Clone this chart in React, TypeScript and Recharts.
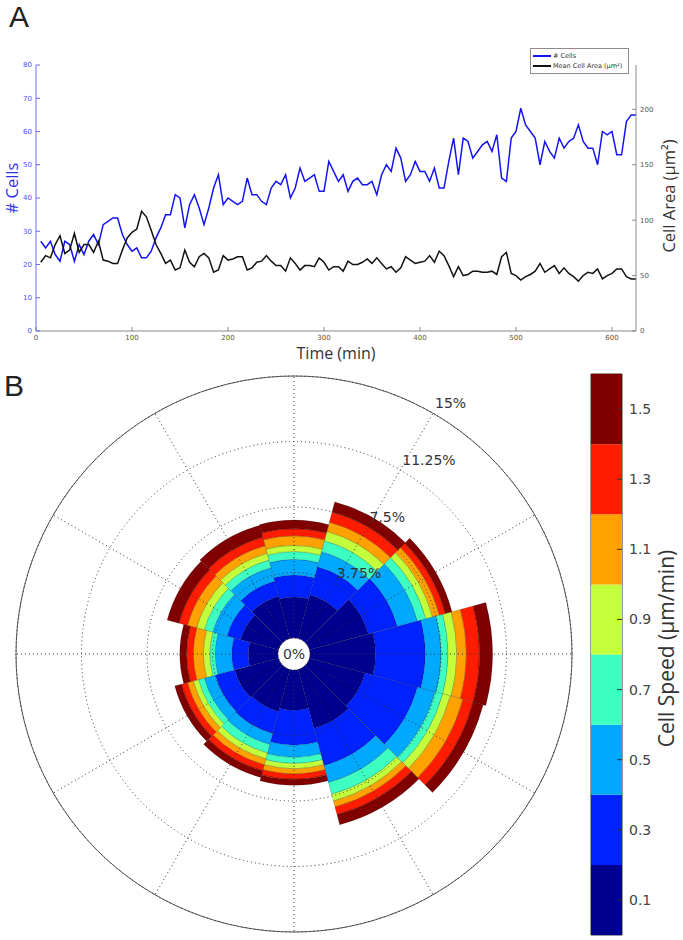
import React from "react";
import {
  Bar,
  BarChart,
  Legend,
  Line,
  LineChart,
  PolarAngleAxis,
  PolarGrid,
  PolarRadiusAxis,
  RadialBar,
  RadialBarChart,
  ReferenceArea,
  XAxis,
  YAxis,
} from "recharts";

// ---- panel A: cell count and mean cell area over time ----
const times = [
  5, 10, 15, 20, 25, 30, 35, 40, 45, 50,
  55, 60, 65, 70, 75, 80, 85, 90, 95, 100,
  105, 110, 115, 120, 125, 130, 135, 140, 145, 150,
  155, 160, 165, 170, 175, 180, 185, 190, 195, 200,
  205, 210, 215, 220, 225, 230, 235, 240, 245, 250,
  255, 260, 265, 270, 275, 280, 285, 290, 295, 300,
  305, 310, 315, 320, 325, 330, 335, 340, 345, 350,
  355, 360, 365, 370, 375, 380, 385, 390, 395, 400,
  405, 410, 415, 420, 425, 430, 435, 440, 445, 450,
  455, 460, 465, 470, 475, 480, 485, 490, 495, 500,
  505, 510, 515, 520, 525, 530, 535, 540, 545, 550,
  555, 560, 565, 570, 575, 580, 585, 590, 595, 600,
  605, 610, 615, 620, 625,
];

const cellCounts = [
  27, 25, 27, 23, 21, 27, 26, 21, 26, 23,
  27, 29, 26, 32, 33, 34, 34, 29, 26, 24,
  25, 22, 22, 24, 28, 31, 35, 35, 41, 40,
  31, 38, 41, 37, 32, 37, 43, 47, 38, 40,
  39, 38, 39, 46, 41, 41, 39, 38, 43, 45,
  44, 47, 40, 43, 49, 45, 46, 47, 42, 42,
  51, 48, 45, 47, 42, 45, 46, 44, 44, 45,
  41, 47, 50, 48, 55, 52, 45, 47, 51, 48,
  48, 45, 49, 43, 43, 51, 58, 47, 58, 57,
  52, 54, 56, 57, 54, 59, 46, 45, 58, 60,
  67, 62, 60, 58, 50, 57, 54, 52, 58, 55,
  57, 58, 62, 57, 55, 55, 50, 60, 59, 60,
  53, 53, 63, 65, 65,
];

const cellAreas = [
  62, 68, 66, 78, 86, 70, 73, 88, 71, 78,
  78, 71, 81, 64, 63, 61, 61, 73, 84, 89,
  92, 108, 103, 91, 78, 70, 61, 64, 55, 57,
  73, 62, 58, 67, 70, 66, 53, 55, 68, 64,
  65, 67, 67, 55, 57, 62, 63, 68, 63, 59,
  59, 54, 66, 61, 55, 59, 59, 58, 66, 62,
  55, 58, 58, 54, 63, 60, 60, 62, 65, 61,
  66, 61, 56, 58, 53, 57, 67, 64, 61, 62,
  63, 68, 62, 72, 68, 59, 49, 58, 50, 51,
  54, 54, 53, 53, 54, 51, 67, 71, 52, 50,
  46, 49, 51, 54, 61, 53, 56, 59, 52, 57,
  52, 49, 45, 50, 53, 52, 56, 47, 50, 52,
  56, 56, 49, 47, 47,
];

const timeTicks = [0, 100, 200, 300, 400, 500, 600];
const countTicks = [0, 10, 20, 30, 40, 50, 60, 70, 80];
const areaTicks = [0, 50, 100, 150, 200];

// ---- panel B: rose of migration direction, stacked by speed class ----
const bearings = [0, 30, 60, 90, 120, 150, 180, 210, 240, 270, 300, 330];
const speedLabels = [0.1, 0.3, 0.5, 0.7, 0.9, 1.1, 1.3, 1.5];
const speedBinWidths = [0.2, 0.2, 0.2, 0.2, 0.2, 0.2, 0.2, 0.2];
const speedColors = ["#00008f", "#0022ff", "#00a8ff", "#3effc2", "#c4ff3c", "#ffa200", "#ff1c00", "#800000"];

// percent of cells per bearing (same order as bearings)
const pctSpeed01 = [2.35, 2.6, 3.5, 3.75, 3.3, 3.5, 2.3, 2.5, 2.6, 1.7, 2.25, 2.5];
const pctSpeed03 = [1.25, 1.65, 1.7, 2.85, 3.1, 2.2, 2.0, 1.3, 1.15, 0.95, 0.8, 0.9];
const pctSpeed05 = [0.9, 0.9, 1.2, 0.9, 1.05, 1.0, 0.7, 0.65, 0.65, 0.95, 0.85, 0.8];
const pctSpeed07 = [0.45, 0.65, 0.5, 0.4, 0.45, 0.7, 0.35, 0.5, 0.35, 0.3, 0.5, 0.45];
const pctSpeed09 = [0.35, 0.55, 0.4, 0.5, 0.45, 0.4, 0.3, 0.35, 0.3, 0.37, 0.45, 0.4];
const pctSpeed11 = [0.55, 0.55, 0.4, 0.55, 0.75, 0.35, 0.3, 0.35, 0.35, 0.58, 0.55, 0.45];
const pctSpeed13 = [0.4, 0.6, 0.35, 0.75, 0.6, 0.45, 0.3, 0.35, 0.35, 0.38, 0.5, 0.5];
const pctSpeed15 = [0.5, 0.6, 0.4, 0.75, 0.6, 0.6, 0.35, 0.4, 0.4, 0.39, 0.7, 0.7];
const pctBySpeed = [pctSpeed01, pctSpeed03, pctSpeed05, pctSpeed07, pctSpeed09, pctSpeed11, pctSpeed13, pctSpeed15];

const percentTicks = [0, 3.75, 7.5, 11.25, 15];

const ROSE_INNER = 16;
const ROSE_OUTER = 278;
const ROSE_LABEL_ANGLE = 60;

const lineRows = times.map((t, i) => ({ t, cells: cellCounts[i], area: cellAreas[i] }));

const roseRows = bearings.map((b, i) => {
  const row: Record<string, number | string> = { dir: `${b}°` };
  pctBySpeed.forEach((arr, k) => {
    row[`s${k}`] = arr[i];
  });
  return row;
});

const colorbarRow: Record<string, number | string> = { name: "speed" };
speedBinWidths.forEach((w, k) => {
  colorbarRow[`c${k}`] = w;
});

const tickFont = "'DejaVu Sans', sans-serif";
const labelFont = "'Open Sans', 'DejaVu Sans', sans-serif";
const letterFont = "'Liberation Sans', Arial, sans-serif";

function LegendBox(props: any) {
  const items = props.payload || [];
  return (
    <div
      style={{
        border: "1px solid #8c8c8c",
        background: "#fff",
        padding: "2px 4px 2px 2px",
        fontFamily: tickFont,
        fontSize: 6.5,
        color: "#333",
        lineHeight: "10px",
      }}
    >
      {items.map((it: any) => (
        <div key={it.value} style={{ display: "flex", alignItems: "center", whiteSpace: "nowrap" }}>
          <span style={{ display: "inline-block", width: 18, height: 2, background: it.color, marginRight: 2 }} />
          {it.value}
        </div>
      ))}
    </div>
  );
}

function RoseTick(props: any) {
  const { x, y, payload } = props;
  const a = (ROSE_LABEL_ANGLE * Math.PI) / 180;
  const style = { fontFamily: tickFont, fontSize: 14, fill: "#333" };
  if (payload.value === 0) {
    const cx = x - ROSE_INNER * Math.cos(a);
    const cy = y + ROSE_INNER * Math.sin(a);
    return (
      <text x={cx} y={cy + 5} textAnchor="middle" {...style}>
        0%
      </text>
    );
  }
  return (
    <text x={x + 2} y={y - 5} textAnchor="start" {...style}>
      {payload.value}%
    </text>
  );
}

export default function App() {
  return (
    <div
      style={{
        position: "absolute",
        left: 0,
        top: 0,
        width: 683,
        height: 940,
        background: "#fff",
        overflow: "hidden",
        fontFamily: labelFont,
      }}
    >
      <div style={{ position: "absolute", left: 9, top: 2, fontSize: 30, lineHeight: "30px", fontFamily: letterFont, color: "#222" }}>A</div>
      <div style={{ position: "absolute", left: 4, top: 371, fontSize: 30, lineHeight: "30px", fontFamily: letterFont, color: "#222" }}>B</div>

      <div style={{ position: "absolute", left: 0, top: 0 }}>
        <LineChart width={683} height={365} data={lineRows} margin={{ top: 42, right: 7, bottom: 4, left: 10 }}>
          <XAxis
            dataKey="t"
            type="number"
            domain={[0, 625]}
            ticks={timeTicks}
            height={30}
            tickSize={-4}
            tickMargin={8}
            stroke="#8a8a8a"
            tick={{ fontSize: 7, fill: "#555", fontFamily: tickFont }}
            label={{ value: "Time (min)", position: "insideBottom", offset: 2, fontSize: 16, fill: "#333", fontFamily: labelFont }}
          />
          <YAxis
            yAxisId="cells"
            orientation="left"
            width={26}
            domain={[0, 80]}
            ticks={countTicks}
            tickSize={-4}
            tickMargin={8}
            stroke="#6868ff"
            tick={{ fontSize: 7, fill: "#4b4bff", fontFamily: tickFont }}
            label={{ value: "# Cells", angle: -90, position: "center", dx: -11, dy: -10, fontSize: 16.5, fill: "#3030e8", fontFamily: labelFont }}
          />
          <YAxis
            yAxisId="area"
            orientation="right"
            width={40}
            domain={[0, 240]}
            ticks={areaTicks}
            tickSize={-4}
            tickMargin={8}
            stroke="#8a8a8a"
            tick={{ fontSize: 7, fill: "#555", fontFamily: tickFont }}
            label={{ value: "Cell Area (μm²)", angle: -90, position: "center", dx: 13, dy: -2, fontSize: 16.5, fill: "#333", fontFamily: labelFont }}
          />
          <Legend
            verticalAlign="top"
            align="left"
            content={<LegendBox />}
            wrapperStyle={{ left: 530, top: 48, width: 99, height: 23 }}
          />
          <Line
            yAxisId="cells"
            dataKey="cells"
            name="# Cells"
            stroke="#1414f0"
            strokeWidth={1.5}
            dot={false}
            isAnimationActive={false}
          />
          <Line
            yAxisId="area"
            dataKey="area"
            name="Mean Cell Area (μm²)"
            stroke="#111"
            strokeWidth={1.5}
            dot={false}
            isAnimationActive={false}
          />
        </LineChart>
      </div>

      <div style={{ position: "absolute", left: 0, top: 365 }}>
        <RadialBarChart
          width={585}
          height={575}
          data={roseRows}
          layout="centric"
          cx={294}
          cy={289}
          innerRadius={ROSE_INNER}
          outerRadius={ROSE_OUTER}
          startAngle={75}
          endAngle={-285}
          barCategoryGap={0}
          barGap={0}
          margin={{ top: 0, right: 0, bottom: 0, left: 0 }}
        >
          <PolarAngleAxis
            dataKey="dir"
            type="category"
            tick={false}
            tickLine={false}
            axisLineType="circle"
            axisLine={{ stroke: "#555", strokeWidth: 1 }}
          />
          {speedColors.map((c, k) => (
            <RadialBar
              key={k}
              dataKey={`s${k}`}
              stackId="rose"
              fill={c}
              stroke="rgba(0,0,0,0.3)"
              strokeWidth={0.6}
              isAnimationActive={false}
            />
          ))}
          <PolarGrid
            gridType="circle"
            polarAngles={bearings.map((b) => 90 - b)}
            stroke="#333"
            strokeDasharray="1 3"
            zIndex={600}
          />
          <PolarRadiusAxis
            type="number"
            domain={[0, 15]}
            ticks={percentTicks}
            angle={ROSE_LABEL_ANGLE}
            axisLine={false}
            tickLine={false}
            tick={<RoseTick />}
            zIndex={700}
          />
        </RadialBarChart>
      </div>

      <div style={{ position: "absolute", left: 585, top: 364 }}>
        <BarChart
          width={98}
          height={576}
          data={[colorbarRow]}
          margin={{ top: 10, right: 6, bottom: 5, left: 6 }}
          barCategoryGap={0}
        >
          <XAxis dataKey="name" hide />
          <YAxis
            orientation="right"
            type="number"
            domain={[0, 1.6]}
            ticks={speedLabels}
            width={55}
            axisLine={false}
            tickSize={-5}
            tickMargin={12}
            stroke="#333"
            tick={{ fontSize: 14, fill: "#444", fontFamily: tickFont }}
            label={{ value: "Cell Speed (μm/min)", angle: -90, position: "center", dx: 17, dy: -6, fontSize: 21, fill: "#333", fontFamily: labelFont }}
          />
          {speedColors.map((c, k) => (
            <Bar key={k} dataKey={`c${k}`} stackId="cb" fill={c} isAnimationActive={false} />
          ))}
          <ReferenceArea y1={0} y2={1.6} fill="none" stroke="#333" strokeWidth={1} ifOverflow="visible" />
        </BarChart>
      </div>
    </div>
  );
}
